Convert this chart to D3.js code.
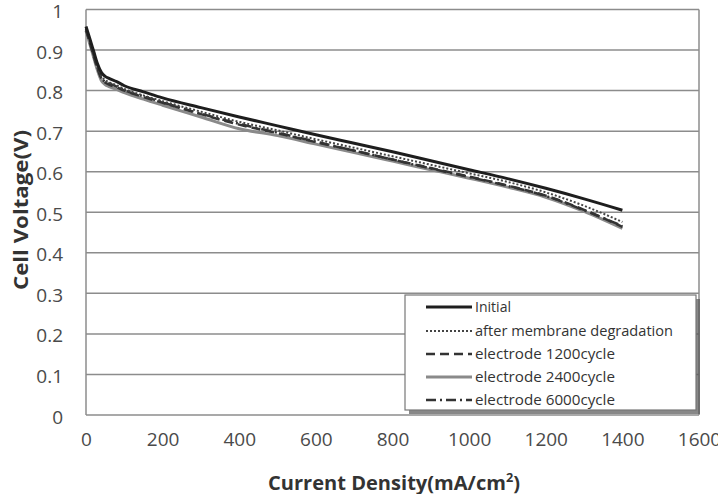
<!DOCTYPE html>
<html><head><meta charset="utf-8">
<script src="https://cdn.jsdelivr.net/npm/d3@7"></script>
<style>body{margin:0;background:#fff}</style>
</head><body><svg id="c" width="718" height="494"></svg>
<script>
const currentDensity = [0,10,20,30,40,50,60,80,100,150,200,300,400,500,600,700,800,900,1000,1100,1200,1300,1400];
const initial   = [0.958,0.928,0.897,0.866,0.845,0.835,0.830,0.822,0.812,0.797,0.782,0.758,0.735,0.713,0.691,0.670,0.649,0.627,0.605,0.583,0.559,0.533,0.505];
const membrane  = [0.952,0.921,0.890,0.860,0.836,0.826,0.821,0.813,0.804,0.788,0.774,0.748,0.723,0.702,0.680,0.659,0.638,0.617,0.596,0.575,0.549,0.516,0.476];
const cyc1200   = [0.950,0.918,0.885,0.855,0.830,0.820,0.815,0.808,0.800,0.784,0.770,0.742,0.716,0.695,0.673,0.652,0.630,0.609,0.588,0.566,0.541,0.506,0.464];
const cyc2400   = [0.948,0.915,0.882,0.850,0.825,0.815,0.810,0.803,0.795,0.779,0.764,0.735,0.706,0.689,0.668,0.647,0.626,0.605,0.584,0.562,0.537,0.502,0.460];
const cyc6000   = [0.952,0.920,0.888,0.857,0.832,0.822,0.818,0.810,0.801,0.786,0.771,0.743,0.718,0.696,0.674,0.652,0.630,0.608,0.587,0.565,0.540,0.505,0.466];
const seriesNames = ["Initial","after membrane  degradation","electrode 1200cycle","electrode 2400cycle","electrode 6000cycle"];
const xTicks = [0,200,400,600,800,1000,1200,1400,1600];
const yTicks = [0,0.1,0.2,0.3,0.4,0.5,0.6,0.7,0.8,0.9,1];

const styles = [
  {stroke:"#1e1e1e", width:3, dash:null},
  {stroke:"#444", width:2, dash:"2,2"},
  {stroke:"#333", width:2.5, dash:"9,5"},
  {stroke:"#8a8a8a", width:3, dash:null},
  {stroke:"#333", width:2.5, dash:"10,4,2,4"}
];
const allSeries = [initial, membrane, cyc1200, cyc2400, cyc6000];

const svg = d3.select("#c");
const L=86, R=699, T=9.5, B=415;
const x = d3.scaleLinear().domain([0,1600]).range([L,R]);
const y = d3.scaleLinear().domain([0,1]).range([B,T]);
const font = "'Open Sans', 'Liberation Sans', sans-serif";

// grid
svg.append("g").selectAll("line").data(yTicks).join("line")
  .attr("x1",L).attr("x2",R).attr("y1",d=>y(d)).attr("y2",d=>y(d))
  .attr("stroke","#8c8c8c").attr("stroke-width",1.5);
svg.append("line").attr("x1",L).attr("x2",L).attr("y1",T).attr("y2",B).attr("stroke","#8c8c8c").attr("stroke-width",1.5);
svg.append("line").attr("x1",R).attr("x2",R).attr("y1",T).attr("y2",B).attr("stroke","#8c8c8c").attr("stroke-width",1.5);

// axes using d3 axis
const xAxis = svg.append("g").attr("transform",`translate(0,${B})`)
  .call(d3.axisBottom(x).tickValues(xTicks).tickSize(0).tickPadding(18).tickFormat(d3.format("d")));
const yAxis = svg.append("g").attr("transform",`translate(${L},2)`)
  .call(d3.axisLeft(y).tickValues(yTicks).tickSize(0).tickPadding(23).tickFormat(d=>d===0?"0":d===1?"1":d3.format(".1f")(d)));
[xAxis,yAxis].forEach(a=>{
  a.select(".domain").remove();
  a.selectAll("text").attr("font-family",font).attr("font-size",19).attr("fill","#4a4a4a");
});

// lines
const line = d3.line().x((d,i)=>x(currentDensity[i])).y(d=>y(d)).curve(d3.curveMonotoneX);
const order = [3,2,4,1,0];
order.forEach(k=>{
  const s = styles[k];
  svg.append("path").datum(allSeries[k]).attr("d",line)
    .attr("fill","none").attr("stroke",s.stroke).attr("stroke-width",s.width)
    .attr("stroke-dasharray",s.dash).attr("stroke-linejoin","round");
});

// axis titles
svg.append("text").attr("x",268).attr("y",490)
  .attr("font-family",font).attr("font-size",19).attr("font-weight","bold").attr("fill","#333")
  .attr("textLength",252).attr("lengthAdjust","spacingAndGlyphs")
  .html("Current Density(mA/cm<tspan baseline-shift='super' font-size='12'>2</tspan>)");
svg.append("text").attr("transform","translate(28,290) rotate(-90)")
  .attr("font-family",font).attr("font-size",19).attr("font-weight","bold").attr("fill","#333")
  .attr("textLength",160).attr("lengthAdjust","spacingAndGlyphs")
  .text("Cell  Voltage(V)");

// legend
const lg = svg.append("g");
lg.append("rect").attr("x",409).attr("y",299).attr("width",291).attr("height",115).attr("fill","#555").attr("opacity",0.7);
lg.append("rect").attr("x",405).attr("y",295).attr("width",291).attr("height",115).attr("fill","#fff").attr("stroke","#777").attr("stroke-width",1.2);
const ly = [307,331,354,377,400];
const lw = [36,198,140,140,140];
seriesNames.forEach((n,k)=>{
  const s = styles[k];
  lg.append("line").attr("x1",426).attr("x2",472).attr("y1",ly[k]).attr("y2",ly[k])
    .attr("stroke",s.stroke).attr("stroke-width",s.width).attr("stroke-dasharray",s.dash);
  lg.append("text").attr("x",475).attr("y",ly[k]+5).attr("font-family",font).attr("font-size",14)
    .attr("fill","#333").attr("textLength",lw[k]).attr("lengthAdjust","spacingAndGlyphs").text(n);
});
</script></body></html>
